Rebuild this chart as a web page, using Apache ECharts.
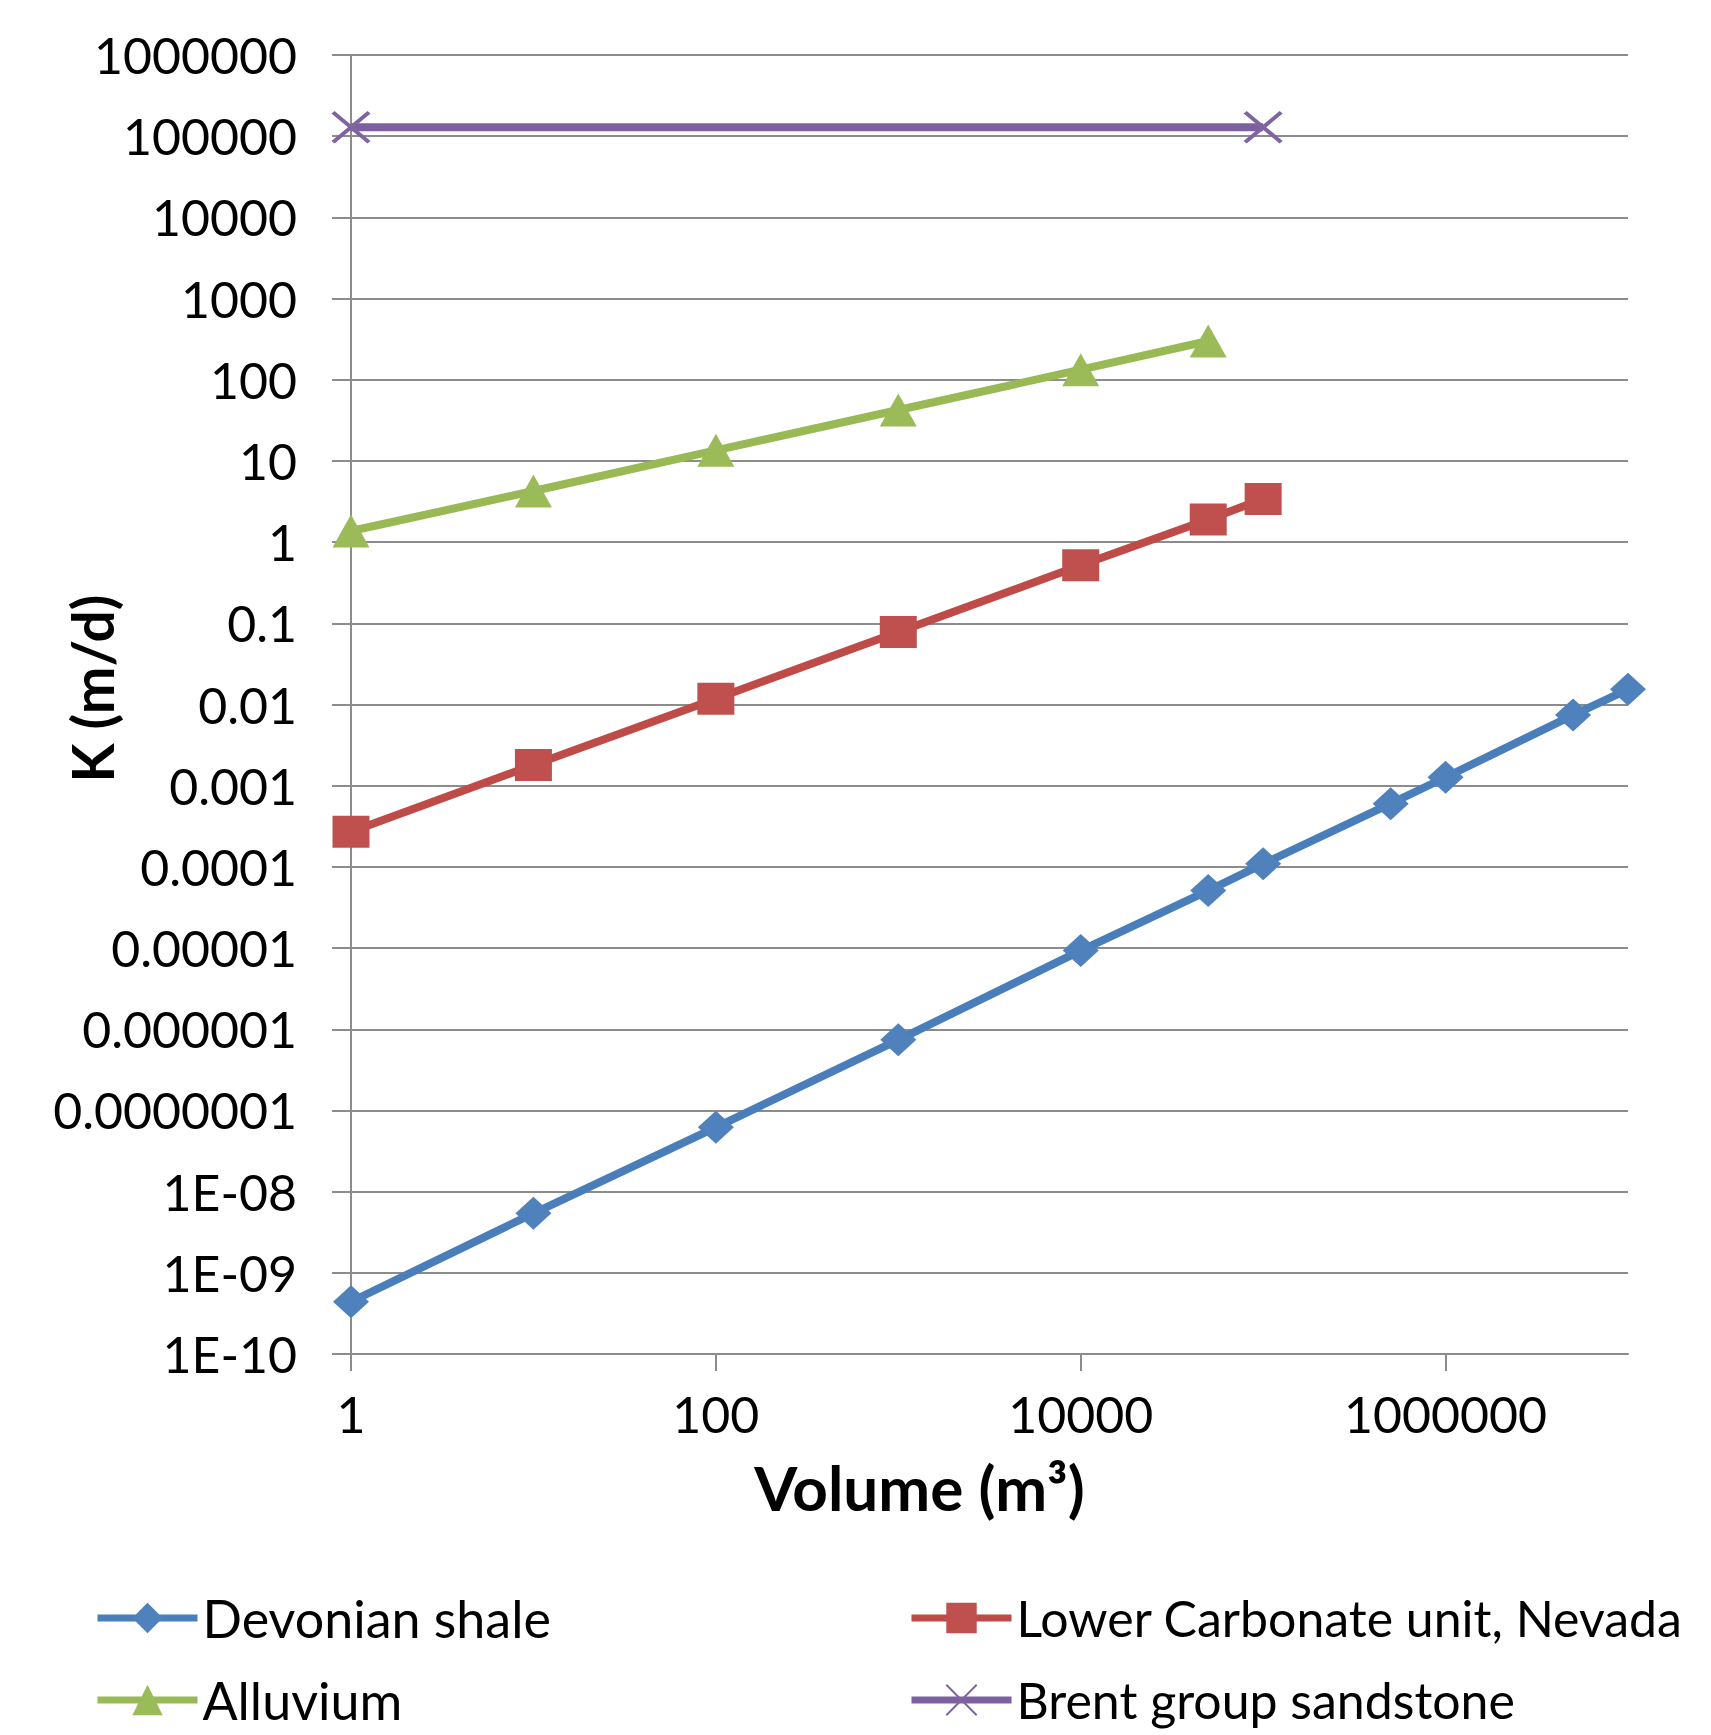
<!DOCTYPE html>
<html>
<head>
<meta charset="utf-8">
<script src="https://cdn.jsdelivr.net/npm/echarts@6/dist/echarts.min.js"></script>
<style>
html,body{margin:0;padding:0;background:#fff;}
#chart{width:1711px;height:1735px;}
</style>
</head>
<body>
<div id="chart"></div>
<script>
// ---- data ----
const seriesNames = ['Devonian shale', 'Lower Carbonate unit, Nevada', 'Alluvium', 'Brent group sandstone'];

const devonianVolume = [1, 10, 100, 1000, 10000, 50000, 100000, 500000, 1000000, 5000000, 10000000];
const devonianK = [4.4e-10, 5.4e-9, 6.2e-8, 7.4e-7, 9.3e-6, 5.1e-5, 1.09e-4, 6.0e-4, 1.27e-3, 7.4e-3, 0.0154];

const carbonateVolume = [1, 10, 100, 1000, 10000, 50000, 100000];
const carbonateK = [2.7e-4, 1.8e-3, 0.0118, 0.078, 0.52, 1.9, 3.4];

const alluviumVolume = [1, 10, 100, 1000, 10000, 50000];
const alluviumK = [1.37, 4.26, 13.5, 42.4, 133, 300];

const brentVolume = [1, 100000];
const brentK = [129000, 129000];

const xTickValues = [1, 100, 10000, 1000000];
const xTickLabels = ['1', '100', '10000', '1000000'];
const yTickValues = [1e-10, 1e-9, 1e-8, 1e-7, 1e-6, 1e-5, 1e-4, 1e-3, 1e-2, 1e-1, 1, 10, 100, 1000, 10000, 100000, 1000000];
const yTickLabels = ['1E-10', '1E-09', '1E-08', '0.0000001', '0.000001', '0.00001', '0.0001', '0.001', '0.01', '0.1', '1', '10', '100', '1000', '10000', '100000', '1000000'];

// ---- helpers ----
function pairs(xs, ys) { return xs.map((x, i) => [x, ys[i]]); }
function labelFor(values, labels) {
  return function (v) {
    const lv = Math.log10(v);
    for (let i = 0; i < values.length; i++) {
      if (Math.abs(Math.log10(values[i]) - lv) < 1e-6) return labels[i];
    }
    return '';
  };
}

const FONT = 'Lato';
const GRID_COLOR = '#8c8c8c';

const chart = echarts.init(document.getElementById('chart'), null, { renderer: 'svg' });

const legendCommon = {
  orient: 'vertical',
  top: 1590,
  padding: 0,
  itemWidth: 100, itemHeight: 38, itemGap: 26,
  lineStyle: { width: 7 }
};

const option = {
  backgroundColor: '#ffffff',
  animation: false,
  textStyle: { fontFamily: FONT, color: '#000' },
  grid: { left: 351, right: 83, top: 55, bottom: 381, containLabel: false, outerBoundsMode: 'none' },
  xAxis: {
    type: 'log',
    logBase: 10,
    min: 1,
    max: 10000000,
    name: 'Volume (m³)',
    nameLocation: 'middle',
    nameGap: 102,
    nameTextStyle: { fontFamily: FONT, fontWeight: 'bold', fontSize: 62, color: '#000', padding: [0, 140, 0, 0] },
    axisLine: { show: true, onZero: false, lineStyle: { color: GRID_COLOR, width: 2 } },
    axisTick: { show: true, length: 17, customValues: xTickValues, lineStyle: { color: GRID_COLOR, width: 2 } },
    axisLabel: {
      customValues: xTickValues,
      margin: 35,
      fontFamily: FONT, fontSize: 50, color: '#000',
      formatter: labelFor(xTickValues, xTickLabels)
    },
    splitLine: { show: false },
    minorTick: { show: false }
  },
  yAxis: {
    type: 'log',
    logBase: 10,
    min: 1e-10,
    max: 1000000,
    name: 'K (m/d)',
    nameLocation: 'middle',
    nameGap: 231,
    nameMoveOverlap: false,
    nameTextStyle: { fontFamily: FONT, fontWeight: 'bold', fontSize: 57, color: '#000', padding: [0, 0, 0, 32] },
    axisLine: { show: true, lineStyle: { color: GRID_COLOR, width: 2 } },
    axisTick: { show: true, length: 19, customValues: yTickValues, lineStyle: { color: GRID_COLOR, width: 2 } },
    axisLabel: {
      customValues: yTickValues,
      margin: 54,
      fontFamily: FONT, fontSize: 50, color: '#000',
      formatter: labelFor(yTickValues, yTickLabels)
    },
    splitLine: { show: true, lineStyle: { color: GRID_COLOR, width: 2 } }
  },
  legend: [
    Object.assign({
      data: [seriesNames[0], seriesNames[2]], left: 94,
      textStyle: { fontFamily: FONT, fontSize: 52, color: '#000', lineHeight: 56 }
    }, legendCommon),
    Object.assign({
      data: [seriesNames[1], seriesNames[3]], left: 908,
      textStyle: { fontFamily: FONT, fontSize: 50, color: '#000', lineHeight: 56 }
    }, legendCommon)
  ],
  series: [
    {
      name: seriesNames[0], type: 'line',
      data: pairs(devonianVolume, devonianK),
      symbol: 'diamond', symbolSize: [36, 33],
      lineStyle: { color: '#4a7ebb', width: 8 },
      itemStyle: { color: '#4f81bd' }
    },
    {
      name: seriesNames[1], type: 'line',
      data: pairs(carbonateVolume, carbonateK),
      symbol: 'rect', symbolSize: [37, 32],
      lineStyle: { color: '#be4b48', width: 8 },
      itemStyle: { color: '#c0504d' }
    },
    {
      name: seriesNames[2], type: 'line',
      data: pairs(alluviumVolume, alluviumK),
      symbol: 'triangle', symbolSize: [37, 33],
      lineStyle: { color: '#98b954', width: 8 },
      itemStyle: { color: '#9bbb59' }
    },
    {
      name: seriesNames[3], type: 'line',
      data: pairs(brentVolume, brentK),
      symbol: 'path://M0,0L10,10M10,0L0,10', symbolSize: [36, 30],
      lineStyle: { color: '#7d60a0', width: 8 },
      itemStyle: { color: '#8064a2', borderColor: '#8064a2', borderWidth: 4 }
    }
  ]
};

chart.setOption(option);
</script>
</body>
</html>
